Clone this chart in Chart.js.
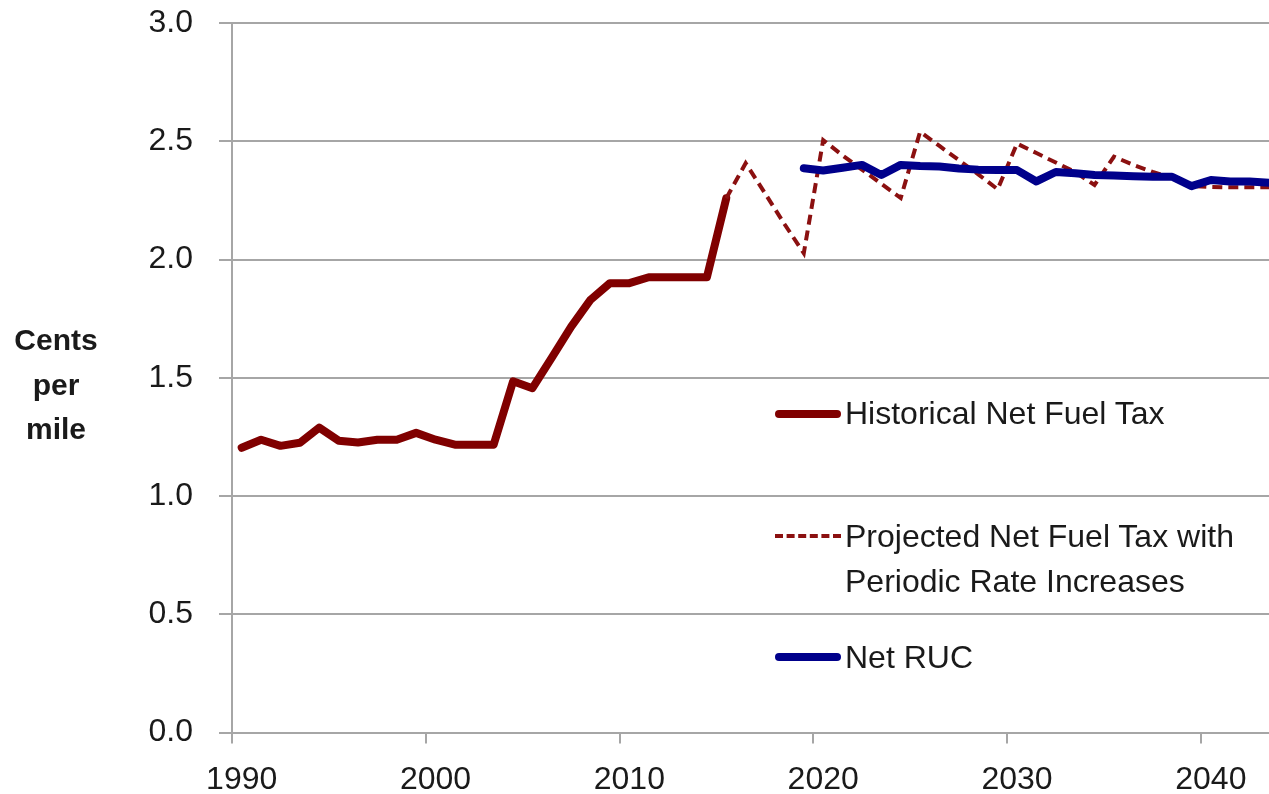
<!DOCTYPE html>
<html lang="en">
<head>
<meta charset="UTF-8" />
<title>Net Fuel Tax vs Net RUC</title>
<style>
  body { margin: 0; background: #fff; font-family: "Liberation Sans", Arial, sans-serif; color: #1a1a1a; }
  #wrap { position: relative; width: 1269px; height: 794px; overflow: hidden; }
  #yTitle { position: absolute; left: 0; width: 112px; top: 318px; text-align: center; font-weight: bold; font-size: 30px; line-height: 44.5px; }
  .leg { position: absolute; left: 775px; font-size: 32px; line-height: 45px; }
  .leg .sample { position: absolute; left: 0; width: 66px; }
  .leg .txt { position: absolute; left: 70px; white-space: nowrap; }
</style>
<script src="https://cdn.jsdelivr.net/npm/chart.js"></script>
</head>
<body>
<div id="wrap">
  <canvas id="c" width="1269" height="794"></canvas>
  <div id="yTitle">Cents<br>per<br>mile</div>
  <div class="leg" style="top:391px">
    <div class="sample" style="top:19px;border-top:8px solid #800000;border-radius:4px"></div>
    <div class="txt">Historical Net Fuel Tax</div>
  </div>
  <div class="leg" style="top:514px">
    <div class="sample" style="top:20px;border-top:4px dashed #8b1010"></div>
    <div class="txt">Projected Net Fuel Tax with<br>Periodic Rate Increases</div>
  </div>
  <div class="leg" style="top:635px">
    <div class="sample" style="top:18px;border-top:8px solid #00008b;border-radius:4px"></div>
    <div class="txt">Net RUC</div>
  </div>
</div>
<script>
  // cents per mile, by year
  const histYears = [1990, 1991, 1992, 1993, 1994, 1995, 1996, 1997, 1998, 1999,
    2000, 2001, 2002, 2003, 2004, 2005, 2006, 2007, 2008, 2009,
    2010, 2011, 2012, 2013, 2014, 2015];
  const histValues = [1.204, 1.238, 1.212, 1.225, 1.289, 1.234, 1.226, 1.238, 1.238, 1.267,
    1.238, 1.217, 1.217, 1.217, 1.485, 1.456, 1.585, 1.716, 1.83, 1.90,
    1.90, 1.925, 1.925, 1.925, 1.925, 2.259];

  const projYears = [2015, 2016, 2017, 2018, 2019, 2020, 2021, 2022, 2023, 2024,
    2025, 2026, 2027, 2028, 2029, 2030, 2031, 2032, 2033, 2034,
    2035, 2036, 2037, 2038, 2039, 2040, 2041, 2042, 2043];
  const projValues = [2.259, 2.407, 2.28, 2.15, 2.027, 2.505, 2.44, 2.38, 2.32, 2.26,
    2.54, 2.48, 2.42, 2.36, 2.297, 2.49, 2.45, 2.41, 2.37, 2.315,
    2.435, 2.40, 2.37, 2.345, 2.31, 2.307, 2.305, 2.305, 2.305];

  const rucYears = [2019, 2020, 2021, 2022, 2023, 2024, 2025, 2026, 2027, 2028,
    2029, 2030, 2031, 2032, 2033, 2034, 2035, 2036, 2037, 2038,
    2039, 2040, 2041, 2042, 2043];
  const rucValues = [2.386, 2.376, 2.388, 2.40, 2.357, 2.40, 2.395, 2.393, 2.385, 2.38,
    2.378, 2.378, 2.33, 2.37, 2.365, 2.357, 2.355, 2.352, 2.35, 2.35,
    2.31, 2.336, 2.33, 2.33, 2.325];

  const yTicks = [0, 0.5, 1.0, 1.5, 2.0, 2.5, 3.0];
  const xLabelYears = [1990, 2000, 2010, 2020, 2030, 2040];

  const gridGray = "#a6a6a6";
  const font = { family: '"Liberation Sans", Arial, sans-serif', size: 32 };

  function pts(xs, ys) {
    return xs.map((x, i) => ({ x: x, y: ys[i] }));
  }

  new Chart(document.getElementById("c"), {
    type: "line",
    data: {
      datasets: [
        {
          label: "Net RUC",
          data: pts(rucYears, rucValues),
          borderColor: "#00008b",
          borderWidth: 8,
          borderCapStyle: "round",
          borderJoinStyle: "round",
        },
        {
          label: "Projected Net Fuel Tax with Periodic Rate Increases",
          data: pts(projYears, projValues),
          borderColor: "#8b1010",
          borderWidth: 4,
          borderDash: [10, 6],
        },
        {
          label: "Historical Net Fuel Tax",
          data: pts(histYears, histValues),
          borderColor: "#800000",
          borderWidth: 8,
          borderCapStyle: "round",
          borderJoinStyle: "round",
        },
      ],
    },
    options: {
      responsive: false,
      animation: false,
      events: [],
      layout: { padding: { top: 23, right: 0, bottom: 0, left: 0 } },
      elements: { point: { radius: 0 }, line: { tension: 0, fill: false } },
      scales: {
        x: {
          type: "linear",
          // year ticks sit on the category boundaries, labels on the year
          min: 1989.5,
          max: 2043,
          afterBuildTicks: (scale) => {
            scale.ticks = xLabelYears.map((y) => ({ value: y - 0.5 }));
          },
          afterFit: (scale) => {
            scale.height = 61.5;
            scale.paddingLeft = 0;
            scale.paddingRight = 0;
          },
          border: { color: gridGray, width: 2 },
          grid: { drawOnChartArea: false, color: gridGray, lineWidth: 2, tickLength: 11 },
          ticks: {
            font: font,
            color: "#1a1a1a",
            padding: 17,
            labelOffset: 9.7,
            maxRotation: 0,
            callback: (v) => String(Math.round(v + 0.5)),
          },
        },
        y: {
          min: 0,
          max: 3,
          afterBuildTicks: (scale) => {
            scale.ticks = yTicks.map((v) => ({ value: v }));
          },
          afterFit: (scale) => {
            scale.width = 232;
            scale.paddingTop = 0;
            scale.paddingBottom = 0;
          },
          border: { color: gridGray, width: 2 },
          grid: { color: gridGray, lineWidth: 2, tickLength: 13 },
          ticks: {
            font: font,
            color: "#1a1a1a",
            padding: 26,
            callback: (v) => v.toFixed(1),
          },
        },
      },
      plugins: {
        legend: { display: false },
        tooltip: { enabled: false },
      },
    },
  });
</script>
</body>
</html>
